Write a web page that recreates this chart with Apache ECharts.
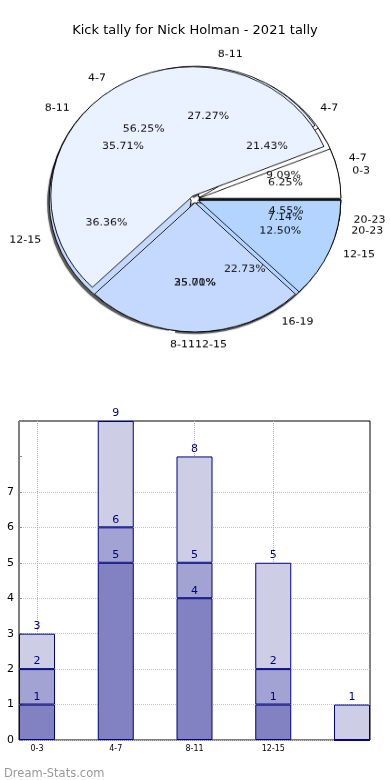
<!DOCTYPE html>
<html>
<head>
<meta charset="utf-8">
<script src="https://cdn.jsdelivr.net/npm/echarts@6/dist/echarts.min.js"></script>
<style>
  html, body { margin: 0; padding: 0; background: #ffffff; }
  #main { position: absolute; left: 0; top: 0; width: 390px; height: 780px; }
  #pie { position: absolute; left: 0; top: 0; width: 390px; height: 400px;
         transform: scaleY(0.91); transform-origin: 195px 199px; }
</style>
</head>
<body>
<div id="main"></div>
<div id="pie"></div>
<script>
// ---------- data ----------
const titleText = 'Kick tally for Nick Holman - 2021 tally';

const pieALabels = ['4-7', '8-11', '12-15', '20-23'];
const pieAValues = [3, 5, 5, 1];

const pieBLabels = ['4-7', '8-11', '12-15', '16-19', '20-23'];
const pieBValues = [2, 6, 8, 5, 1];

const pieCLabels = ['0-3', '4-7', '8-11', '12-15'];
const pieCValues = [1, 9, 4, 2];

const barCategories = ['0-3', '4-7', '8-11', '12-15', '16-19'];
const barTickLabels = ['0-3', '4-7', '8-11', '12-15', ''];
const layer1 = [1, 5, 4, 1, 0];
const layer2 = [1, 1, 1, 1, 0];
const layer3 = [1, 3, 3, 3, 1];
const yTickLabels = ['0', '1', '2', '3', '4', '5', '6', '7', '', ''];

// ---------- styles ----------
const FONT = 'DejaVu Sans';
const pieColors = ['#ffffff', '#eaf1ff', '#c5d9ff', '#b3d4ff', '#a8ccff'];
const barColors = ['#8282c2', '#a3a3d3', '#cdcde5'];
const R = 142;
const CENTER = [195, 199];
const EXPLODE = 4;

function pieData(labels, values, colorize) {
  return labels.map((n, i) => ({
    name: n, value: values[i], selected: true,
    itemStyle: colorize ? { color: pieColors[i % pieColors.length] } : undefined
  }));
}

function namePie(labels, values, start) {
  return {
    type: 'pie', center: CENTER, radius: R, startAngle: start, clockwise: false,
    selectedMode: 'multiple', selectedOffset: EXPLODE, avoidLabelOverlap: false,
    silent: true, animation: false,
    labelLayout: { hideOverlap: false },
    data: pieData(labels, values, true),
    itemStyle: { borderColor: '#000', borderWidth: 0.9 },
    label: { show: true, position: 'outside', formatter: '{b}', fontFamily: FONT,
             fontSize: 11, color: '#000', distanceToLabelLine: 0 },
    labelLine: { show: false, length: 0.1 * R, length2: 0 },
    emphasis: { disabled: true }
  };
}

function pctPie(labels, values, start) {
  const total = values.reduce((a, b) => a + b, 0);
  return {
    type: 'pie', center: CENTER, radius: [0.4 * R, 0.8 * R], startAngle: start, clockwise: false,
    selectedMode: 'multiple', selectedOffset: EXPLODE, avoidLabelOverlap: false,
    silent: true, animation: false, z: 10,
    labelLayout: { hideOverlap: false },
    data: pieData(labels, values, false),
    itemStyle: { color: 'rgba(0,0,0,0)', borderWidth: 0 },
    label: { show: true, position: 'inside', fontFamily: FONT, fontSize: 11, color: '#111',
             formatter: p => (p.value / total * 100).toFixed(2) + '%' },
    labelLine: { show: false },
    emphasis: { disabled: true }
  };
}

const shadowPie = {
  type: 'pie', center: [CENTER[0] - 2, CENTER[1] + 3], radius: R, startAngle: 0, clockwise: false,
  selectedMode: 'multiple', selectedOffset: EXPLODE, silent: true, animation: false,
  data: pieData(pieBLabels, pieBValues, false),
  itemStyle: { color: 'rgba(70,70,70,0.8)', borderWidth: 0, shadowBlur: 2, shadowColor: 'rgba(0,0,0,0.4)' },
  label: { show: false }, labelLine: { show: false }, emphasis: { disabled: true }
};

const pieChart = echarts.init(document.getElementById('pie'), null, { renderer: 'canvas' });
pieChart.setOption({
  animation: false,
  series: [
    shadowPie,
    namePie(pieALabels, pieAValues, 0.01),
    namePie(pieBLabels, pieBValues, 0),
    namePie(pieCLabels, pieCValues, -0.01),
    pctPie(pieALabels, pieAValues, 0.01),
    pctPie(pieBLabels, pieBValues, 0),
    pctPie(pieCLabels, pieCValues, -0.01)
  ]
});

// ---------- bar chart ----------
const layers = [layer1, layer2, layer3];
function cumLabel(layerIdx) {
  return p => {
    if (!layers[layerIdx][p.dataIndex]) return '';
    let s = 0;
    for (let k = 0; k <= layerIdx; k++) s += layers[k][p.dataIndex];
    return String(s);
  };
}

const hColors = yTickLabels.map(t => (t === '' ? 'rgba(0,0,0,0)' : '#c4c4c4'));
const vColors = barTickLabels.map(t => (t === '' ? 'rgba(0,0,0,0)' : '#b0b0b0'));

const main = echarts.init(document.getElementById('main'), null, { renderer: 'canvas' });
main.setOption({
  animation: false,
  backgroundColor: '#ffffff',
  title: [
    { text: titleText, left: 'center', top: 19,
      textStyle: { fontFamily: FONT, fontSize: 13, fontWeight: 'normal', color: '#000' } },
    { text: 'Dream-Stats.com', left: -1, top: 763,
      textStyle: { fontFamily: FONT, fontSize: 11.5, fontWeight: 'normal', color: '#999999' } }
  ],
  grid: [
    { left: 19, right: 20, top: 421, bottom: 40, show: true, borderColor: '#000', borderWidth: 1,
      backgroundColor: 'rgba(0,0,0,0)' },
    { left: 37, right: 38, top: 421, bottom: 40 }
  ],
  xAxis: [
    { gridIndex: 0, type: 'value', min: 0, max: 1, show: false },
    { gridIndex: 1, type: 'category', data: barCategories, boundaryGap: false,
      axisLine: { show: false }, axisTick: { show: false },
      axisLabel: { fontFamily: FONT, fontSize: 8, color: '#000', margin: 5,
                   formatter: (v, i) => barTickLabels[i] },
      splitLine: { show: true, lineStyle: { type: 'dotted', color: vColors, width: 1 } } }
  ],
  yAxis: [
    { gridIndex: 0, type: 'value', min: 0, max: 9, interval: 1,
      axisLine: { show: false },
      axisTick: { show: true, inside: true, length: 3, lineStyle: { color: '#888' } },
      axisLabel: { fontFamily: FONT, fontSize: 11, color: '#000', margin: 5,
                   formatter: v => yTickLabels[v] },
      splitLine: { show: true, lineStyle: { type: 'dotted', color: hColors, width: 1 } } },
    { gridIndex: 1, type: 'value', min: 0, max: 9, show: false }
  ],
  series: layers.map((arr, li) => ({
    type: 'bar', xAxisIndex: 1, yAxisIndex: 1, stack: 'kicks', data: arr,
    barWidth: 36, clip: false, silent: true,
    itemStyle: { color: barColors[li], borderColor: '#000080', borderWidth: 1 },
    label: { show: true, position: 'top', distance: 2, fontFamily: FONT, fontSize: 11,
             color: '#000080', formatter: cumLabel(li) },
    emphasis: { disabled: true }
  }))
});
</script>
</body>
</html>
